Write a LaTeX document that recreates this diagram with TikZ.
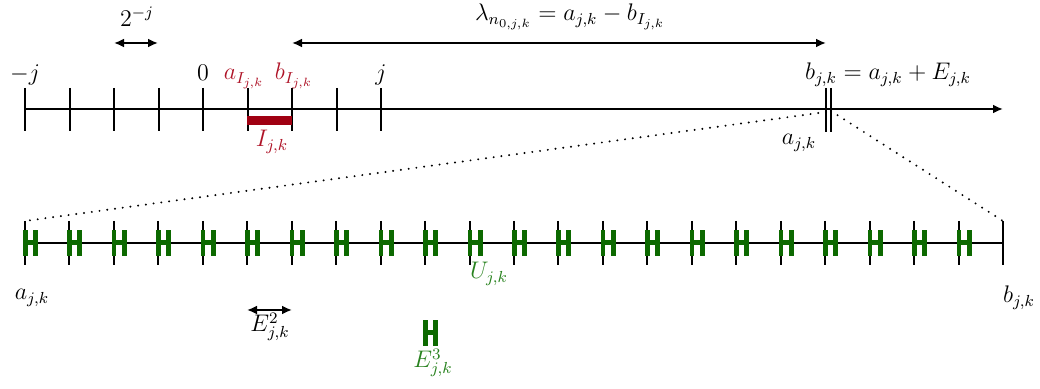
\documentclass[tikz,border=0pt]{standalone}
\usetikzlibrary{arrows.meta}
\definecolor{bardred}{RGB}{160,0,18}
\definecolor{txtred}{RGB}{175,20,40}
\definecolor{hgreen}{RGB}{12,105,0}
\definecolor{txtgreen}{RGB}{40,130,30}
\tikzset{
  lbl/.style={font=\fontsize{12}{14}\selectfont, inner sep=0pt},
  axis/.style={line width=1pt},
  tick/.style={line width=1pt},
  dimarrow/.style={line width=1pt, {Latex[length=5pt,width=4.5pt]}-{Latex[length=5pt,width=4.5pt]}},
  dots/.style={line width=1.1pt, line cap=round, dash pattern=on 0pt off 3.9pt},
  hbar/.style={fill=hgreen, draw=none},
  pics/hsym/.style={code={
    \fill[hbar] (-2,-13) rectangle (2.5,13);
    \fill[hbar] (8,-13) rectangle (13,13);
    \fill[hbar] (2,-2.5) rectangle (8.5,2.5);
  }}
}
\begin{document}
\begin{tikzpicture}[x=0.5pt,y=-0.5pt]
\useasboundingbox (0,0) rectangle (1040,389);
% ---------- top axis ----------
\coordinate (t0) at (25,109);
\coordinate (tend) at (1003,109);
\draw[axis,-{Latex[length=5pt,width=4.5pt]}] (t0) -- (tend);
\foreach \i in {0,...,8}{
  \draw[tick] ({25+44.5*\i},88) -- ({25+44.5*\i},131);
}
% red interval
\fill[bardred] (247,116) rectangle (292,125);
% double tick
\coordinate (dl) at (826,112);
\coordinate (dr) at (831,111);
\draw[tick] (826,88) -- (826,132);
\draw[tick] (830.5,88) -- (830.5,132);
% labels top axis
\node[lbl,anchor=base] (lmj) at (25,81) {$-j$};
\node[lbl,anchor=base] (l0) at (203,81) {$0$};
\node[lbl,anchor=base] (lj) at (381,81) {$j$};
\node[lbl,anchor=base,text=txtred] (laI) at (244,80) {$a_{I_{j,k}}$};
\node[lbl,anchor=base,text=txtred] (lbI) at (294,80) {$b_{I_{j,k}}$};
\node[lbl,text=txtred] (lI) at (272,142) {$I_{j,k}$};
\node[lbl,anchor=base] (lbjk) at (888,80) {$b_{j,k} = a_{j,k} + E_{j,k}$};
\node[lbl] (lajk) at (799,143) {$a_{j,k}$};
% dimension arrows top
\coordinate (d1a) at (114,43);
\coordinate (d1b) at (158,43);
\draw[dimarrow] (d1a) -- (d1b);
\node[lbl] (l2j) at (137,17) {$2^{-j}$};
\coordinate (d2a) at (292,43);
\coordinate (d2b) at (826,43);
\draw[dimarrow] (d2a) -- (d2b);
\node[lbl] (llam) at (570,17) {$\lambda_{n_{0,j,k}} = a_{j,k} - b_{I_{j,k}}$};
% ---------- bottom axis ----------
\coordinate (b0) at (25,243);
\coordinate (bend) at (1003,243);
\draw[axis] (b0) -- (bend);
\foreach \i in {0,...,22}{
  \draw[tick] ({25+44.4545*\i},221) -- ({25+44.4545*\i},265);
}
\foreach \i in {0,...,21}{
  \pic at ({25+44.4545*\i},243) {hsym};
}
\coordinate (bl) at (25,221);
\coordinate (br) at (1003,221);
% zoom lines
\draw[dots] (dl) -- (bl);
\draw[dots] (dr) -- (br);
% bottom labels
\node[lbl] (lak) at (32,298) {$a_{j,k}$};
\node[lbl] (lbk) at (1019,298) {$b_{j,k}$};
\node[lbl,text=txtgreen] (lU) at (489,274) {$U_{j,k}$};
\coordinate (e2a) at (247,310);
\coordinate (e2b) at (292,310);
\draw[dimarrow] (e2a) -- (e2b);
\node[lbl] (lE2) at (270,327) {$E^2_{j,k}$};
\pic at (425,333) {hsym};
\node[lbl,text=txtgreen] (lE3) at (433,363) {$E^3_{j,k}$};
\end{tikzpicture}
\end{document}
